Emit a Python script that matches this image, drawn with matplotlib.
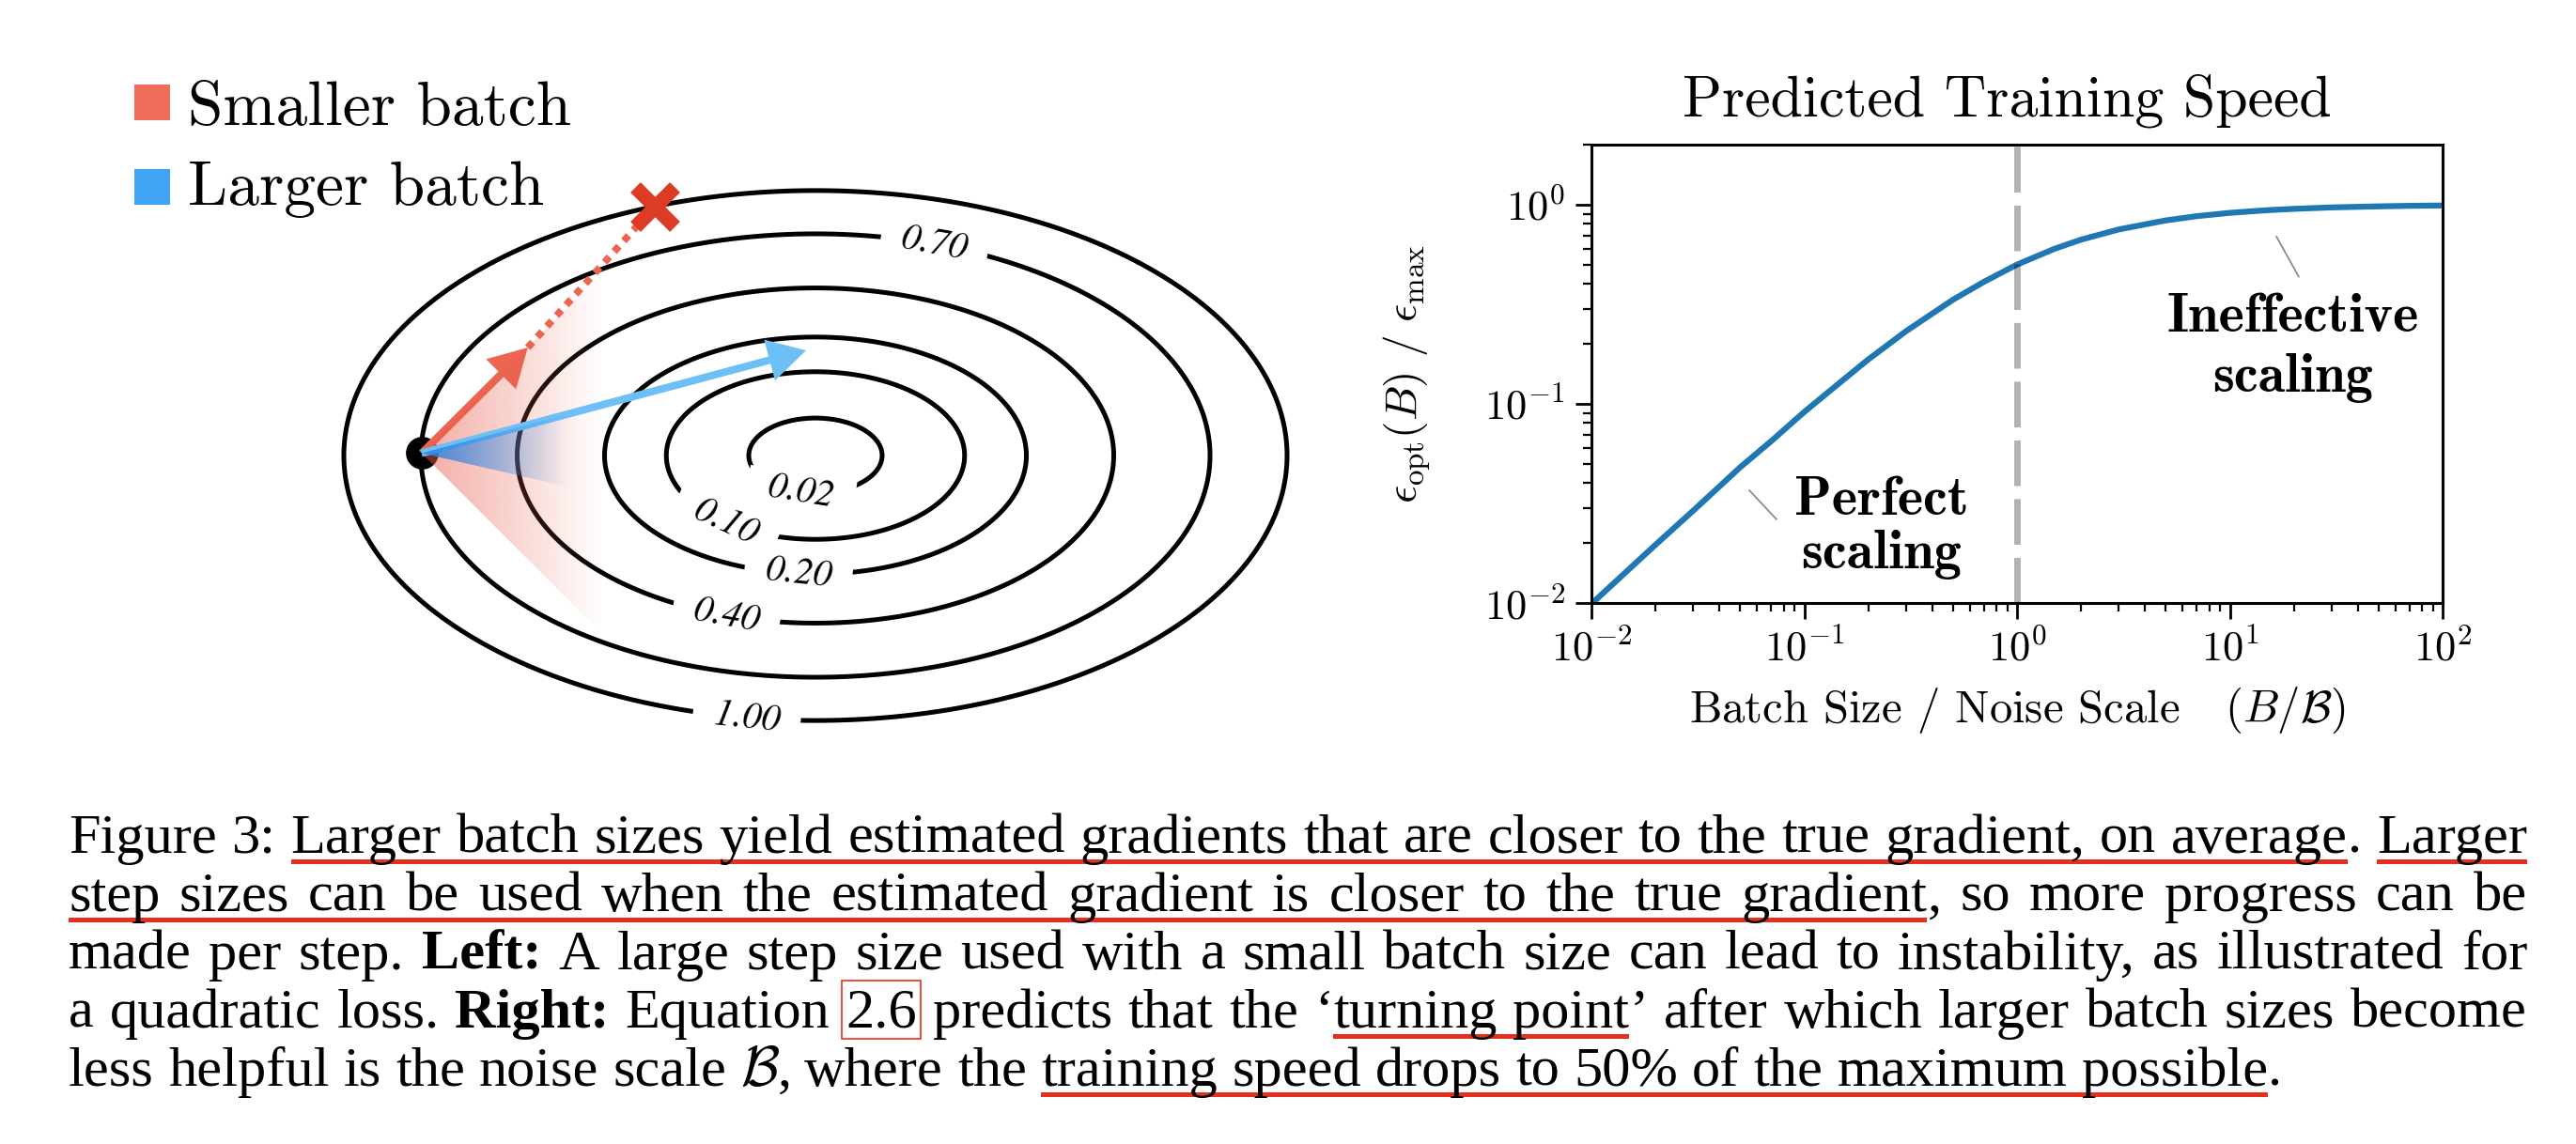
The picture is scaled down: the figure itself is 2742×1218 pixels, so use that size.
import numpy as np
import matplotlib
matplotlib.use('Agg')
import matplotlib.pyplot as plt
from matplotlib.patches import Rectangle, Polygon, FancyArrow
from matplotlib.ticker import FuncFormatter, NullFormatter

plt.rcParams['mathtext.fontset'] = 'cm'
plt.rcParams['axes.unicode_minus'] = False

# ---- data ----
# left: quadratic loss contours and the two steps
levels = [0.02, 0.10, 0.20, 0.40, 0.70, 1.00]
label_pos = [(-0.030, -0.072), (-0.191, -0.143), (-0.036, -0.243),
             (-0.189, -0.339), (0.253, 0.452), (-0.145, -0.548)]
axis_ratio = 0.562
start = (-0.835, 0.005)
small_step = (-0.610, 0.229)
small_overshoot = (-0.341, 0.528)
large_step = (-0.020, 0.223)
legend_labels = ['Smaller batch', 'Larger batch']

# right: predicted training speed
batch_ratio = [0.01, 0.02, 0.03, 0.05, 0.07, 0.1, 0.15, 0.2, 0.3, 0.5, 0.7, 1.0,
               1.5, 2.0, 3.0, 5.0, 7.0, 10, 15, 20, 30, 50, 70, 100]
speed = [0.0099, 0.0196, 0.029, 0.048, 0.065, 0.091, 0.13, 0.167, 0.231, 0.333,
         0.41, 0.5, 0.6, 0.667, 0.75, 0.833, 0.875, 0.909, 0.9375, 0.952, 0.968,
         0.980, 0.986, 0.990]
turning_point = 1.0

caption_lines = [
    "Figure 3: [Larger batch sizes yield estimated gradients that are closer to the true gradient, on average]. [Larger]",
    "[step sizes can be used when the estimated gradient is closer to the true gradient], so more progress can be",
    "made per step. *Left:* A large step size used with a small batch size can lead to instability, as illustrated for",
    "a quadratic loss. *Right:* Equation |2.6| predicts that the \u2018[turning point]\u2019 after which larger batch sizes become",
    "less helpful is the noise scale $\\mathcal{B}$, where the [training speed drops to 50% of the maximum possible].",
]

W, H = 2742, 1218
fig = plt.figure(figsize=(W / 100, H / 100), dpi=100)


def fx(px):
    return px / W


def fy(py):
    return 1 - py / H


# ---- left panel ----
ax1 = fig.add_axes([0, 1 - 820 / H, 1450 / W, 820 / H])
ax1.axis('off')
unit, cx, cy = 502, 868, 485

red = '#EC6550'
blue = '#6DC0F5'


def cone(ax, apex, a_lo, a_hi, reach, color, a0, z):
    rgb = matplotlib.colors.to_rgb(color)
    ang = np.linspace(np.radians(a_lo), np.radians(a_hi), 30)
    pts = [apex] + [(apex[0] + 3 * np.cos(a), apex[1] + 3 * np.sin(a)) for a in ang]
    poly = Polygon(pts, closed=True, transform=ax.transData)
    nx = 200
    img = np.zeros((2, nx, 4))
    img[..., :3] = rgb
    img[..., 3] = a0 * np.clip(1 - np.linspace(0, 1, nx), 0, 1)
    im = ax.imshow(img, extent=(apex[0], apex[0] + reach, apex[1] - 1.5, apex[1] + 1.5),
                   origin='lower', aspect='auto', interpolation='bilinear', zorder=z)
    im.set_clip_path(poly)


ax1.plot(*start, 'o', ms=24, color='k', zorder=2)
ax1.add_patch(FancyArrow(start[0], start[1], small_step[0] - start[0], small_step[1] - start[1],
                         width=0.016, head_width=0.09, head_length=0.08,
                         length_includes_head=True, color=red, lw=0, zorder=3))
ax1.plot([small_step[0], small_overshoot[0]], [small_step[1], small_overshoot[1]],
         ls=(0, (1, 1)), lw=5.5, color=red, zorder=3)
cone(ax1, start, -45, 45, 0.385, '#E85F50', 0.52, 4)
ax1.add_patch(FancyArrow(start[0], start[1], large_step[0] - start[0], large_step[1] - start[1],
                         width=0.016, head_width=0.09, head_length=0.08,
                         length_includes_head=True, color=blue, lw=0, zorder=5))
cone(ax1, start, -12.9, 15, 0.31, '#2F86E0', 0.92, 6)
ax1.plot(*small_overshoot, marker='x', ms=30, mew=11, color='#DC3B26', zorder=7)

gx = np.linspace(-1.8, 1.25, 700)
gy = np.linspace(-0.75, 1.0, 450)
X, Y = np.meshgrid(gx, gy)
Z = X ** 2 + (Y / axis_ratio) ** 2
cs = ax1.contour(X, Y, Z, levels=levels, colors='k', linewidths=3.6, zorder=1)
ax1.set_xlim(-cx / unit, (1450 - cx) / unit)
ax1.set_ylim((cy - 820) / unit, cy / unit)
ax1.set_autoscale_on(False)
with plt.rc_context({'font.family': 'STIXGeneral', 'font.style': 'italic'}):
    clabels = ax1.clabel(cs, levels, manual=label_pos, inline=False,
                         fmt='  %.2f  ', fontsize=29)
for t in clabels:
    t.set_bbox(dict(boxstyle='square,pad=0.05', fc='white', ec='none'))
    t.set_zorder(3)

# legend
for i, (lab, col) in enumerate(zip(legend_labels, ['#EF6C5A', '#40A3F5'])):
    top = 90 + i * 90
    fig.add_artist(Rectangle((fx(143), fy(top + 38)), 38 / W, 38 / H,
                             transform=fig.transFigure, color=col, lw=0))
    fig.text(fx(200), fy(133 + i * 85), lab, fontsize=48.5, family='cmr10', va='baseline')

# ---- right panel ----
ax2 = fig.add_axes([1694 / W, 1 - 642 / H, 906 / W, 488 / H])
ax2.plot(batch_ratio, speed, color='#1f77b4', lw=4.5, zorder=2)
ax2.axvline(turning_point, color='k', alpha=0.3, lw=5, dashes=(7, 2), zorder=3)
ax2.set_xscale('log')
ax2.set_yscale('log')
ax2.set_xlim(1e-2, 1e2)
ax2.set_ylim(1e-2, 2.0)
pow_fmt = FuncFormatter(lambda v, _: r'$10^{%d}$' % int(round(np.log10(v))))
ax2.xaxis.set_major_formatter(pow_fmt)
ax2.yaxis.set_major_formatter(pow_fmt)
ax2.xaxis.set_minor_formatter(NullFormatter())
ax2.yaxis.set_minor_formatter(NullFormatter())
ax2.tick_params(which='major', length=12, width=2, direction='out', labelsize=32, pad=8)
ax2.tick_params(which='minor', length=6.5, width=1.6, direction='out')
for sp in ax2.spines.values():
    sp.set_linewidth(2.2)
ax2.set_title('Predicted Training Speed', fontsize=44.5, family='cmr10', pad=22, x=0.488)
ax2.set_xlabel(r'Batch Size / Noise Scale   $(B/\mathcal{B})$', fontsize=35,
               family='cmr10', labelpad=12)
ax2.set_ylabel(r'$\epsilon_{\mathrm{opt}}(B)\ /\ \epsilon_{\mathrm{max}}$', fontsize=34,
               labelpad=40)

for txt, xx, yy in [('Perfect', 0.231, 0.0277), ('scaling', 0.231, 0.01495),
                    ('Ineffective', 19.7, 0.2307), ('scaling', 19.7, 0.1151)]:
    ax2.text(xx, yy, txt, fontsize=42, family='cmb10', ha='center', va='baseline')
ax2.annotate('', xy=(0.0552, 0.0368), xytext=(0.0741, 0.0263),
             arrowprops=dict(arrowstyle='-', color='0.55', lw=1.3, shrinkA=0, shrinkB=0))
ax2.annotate('', xy=(16.55, 0.692), xytext=(21.1, 0.434),
             arrowprops=dict(arrowstyle='-', color='0.55', lw=1.3, shrinkA=0, shrinkB=0))

# ---- caption ----
x_left, x_right = 73, 2690
baselines = [908, 970, 1032, 1094, 1156]
cap_fs = 43.5
cap_red = '#E5301F'
renderer = fig.canvas.get_renderer()


def parse(line):
    words, cur, buf = [], [], ''
    flags = {'*': False, '[': False, '|': False}

    def flush():
        nonlocal buf
        if buf:
            cur.append((buf, flags['*'], flags['['], flags['|']))
            buf = ''

    for ch in line:
        if ch in '*|':
            flush()
            flags[ch] = not flags[ch]
        elif ch in '[]':
            flush()
            flags['['] = ch == '['
        elif ch == ' ':
            flush()
            if cur:
                words.append(cur)
                cur = []
        else:
            buf += ch
    flush()
    if cur:
        words.append(cur)
    return words


def measure(s):
    t = fig.text(0, 0, s, fontsize=cap_fs, family='Liberation Serif')
    w = t.get_window_extent(renderer).width
    t.remove()
    return w


space_w = measure('a a') - measure('aa')

for li, line in enumerate(caption_lines):
    words = parse(line)
    items = []
    for wd in words:
        segs = []
        for (s, b, u, bx) in wd:
            t = fig.text(0, 0, s, fontsize=cap_fs, family='Liberation Serif',
                         weight='bold' if b else 'normal', va='baseline')
            segs.append([t, t.get_window_extent(renderer).width, u, bx])
        items.append(segs)
    widths = [sum(sg[1] for sg in segs) for segs in items]
    if li < len(caption_lines) - 1:
        gap = (x_right - x_left - sum(widths)) / (len(items) - 1)
    else:
        gap = space_w
    x = x_left
    bl = baselines[li]
    run = None
    runs = []
    for segs, w in zip(items, widths):
        for t, sw, u, bx in segs:
            t.set_position((fx(x), fy(bl)))
            if u:
                run = [run[0] if run else x, x + sw]
            else:
                if run:
                    runs.append(run)
                run = None
            if bx:
                fig.add_artist(Rectangle((fx(x - 4), fy(bl + 12)), (sw + 8) / W, 62 / H,
                                         transform=fig.transFigure, fill=False,
                                         edgecolor=cap_red, lw=1.2))
            x += sw
        x += gap
    if run:
        runs.append(run)
    for xs, xe in runs:
        fig.add_artist(Rectangle((fx(xs), fy(bl + 12)), (xe - xs) / W, 5 / H,
                                 transform=fig.transFigure, color=cap_red, lw=0))

fig.savefig('out.png', dpi=100)
